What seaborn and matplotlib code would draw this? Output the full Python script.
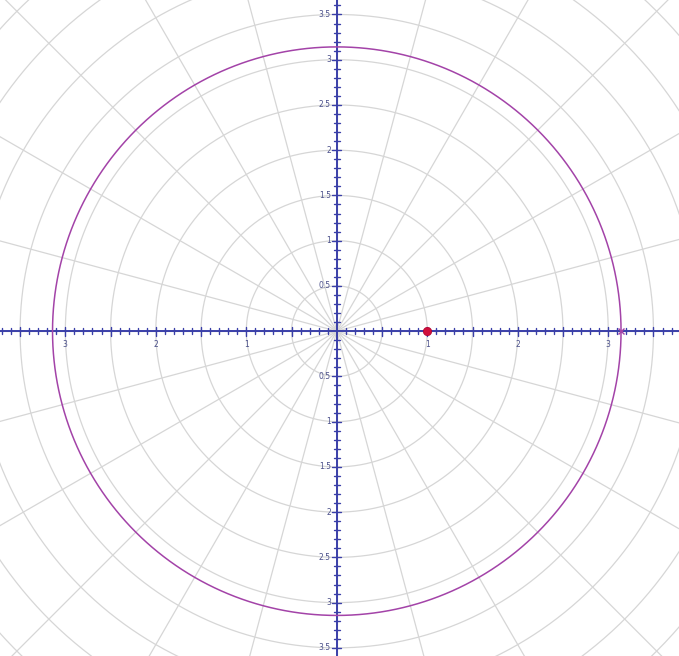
import numpy as np
import pandas as pd
import matplotlib
matplotlib.use("Agg")
import matplotlib.pyplot as plt
import seaborn as sns

# curve r = pi and the marked point on the polar axis
curve_radius = [np.pi]
point_x = [1.0]
point_y = [0.0]
end_x = [np.pi]
end_y = [0.0]

# polar grid: rings every 0.5, spokes every 15 degrees
grid_rings = [0.5, 1.0, 1.5, 2.0, 2.5, 3.0, 3.5, 4.0, 4.5, 5.0, 5.5]
grid_spokes_deg = list(range(0, 360, 15))

# axis tick labels
x_tick_vals = [-3, -2, -1, 1, 2, 3]
x_tick_text = ["3", "2", "1", "1", "2", "3"]
y_tick_vals = [3.5, 3, 2.5, 2, 1.5, 1, 0.5, -0.5, -1, -1.5, -2, -2.5, -3, -3.5]
y_tick_text = ["3.5", "3", "2.5", "2", "1.5", "1", "0.5",
               "0.5", "1", "1.5", "2", "2.5", "3", "3.5"]

sns.set_theme(style="white")
plt.rcParams["font.family"] = ["DejaVu Sans"]

fig = plt.figure(figsize=(6.79, 6.56), dpi=100)
ax = fig.add_axes([0, 0, 1, 1])
ax.set_xlim(-3.72, 3.78)
ax.set_ylim(-3.59, 3.66)
ax.set_aspect("equal")
ax.axis("off")

grid_col = "#d6d6d6"
t = np.linspace(0, 2 * np.pi, 721)
for r in grid_rings:
    ax.plot(r * np.cos(t), r * np.sin(t), color=grid_col, lw=0.9, zorder=1)
for a in grid_spokes_deg:
    th = np.deg2rad(a)
    ax.plot([0, 6 * np.cos(th)], [0, 6 * np.sin(th)], color=grid_col, lw=0.9, zorder=1)

# axes through the origin
axis_col = "#3a3fa8"
ax.axhline(0, color=axis_col, lw=1.4, zorder=3)
ax.axvline(0, color=axis_col, lw=1.4, zorder=3)

px = 1 / 90.5
ticks = np.round(np.arange(-3.7, 3.81, 0.1), 2)
for v in ticks:
    if abs(v) < 1e-9:
        continue
    major = abs(v * 2 - round(v * 2)) < 1e-6
    h = (4.5 if major else 3) * px
    ax.plot([v, v], [-h, h], color=axis_col, lw=1.0, zorder=3)
yticks = np.round(np.arange(-3.6, 3.61, 0.1), 2)
for v in yticks:
    if abs(v) < 1e-9:
        continue
    major = abs(v * 2 - round(v * 2)) < 1e-6
    h = (4.5 if major else 3) * px
    ax.plot([-h, h], [v, v], color=axis_col, lw=1.0, zorder=3)

label_col = "#4a4f8a"
for v, s in zip(x_tick_vals, x_tick_text):
    ax.text(v, -13 * px, s, ha="center", va="center", fontsize=5.5, color=label_col)
for v, s in zip(y_tick_vals, y_tick_text):
    ax.text(-6 * px, v, s, ha="right", va="center", fontsize=5.5, color=label_col)

# the curve r = pi
theta = np.linspace(0, 2 * np.pi, 721)
curve = pd.DataFrame({
    "x": curve_radius[0] * np.cos(theta),
    "y": curve_radius[0] * np.sin(theta),
})
sns.lineplot(data=curve, x="x", y="y", sort=False, estimator=None,
             color="#a343a8", lw=1.1, ax=ax, zorder=4)

# marked points
sns.scatterplot(x=point_x, y=point_y, color="#d0103c", s=36, edgecolor="#b00030",
                linewidth=0.5, ax=ax, zorder=6)
ax.plot(end_x, end_y, marker="x", color="#a343a8", ms=4, mew=1.0, zorder=6)

fig.savefig("out.png", dpi=100)
